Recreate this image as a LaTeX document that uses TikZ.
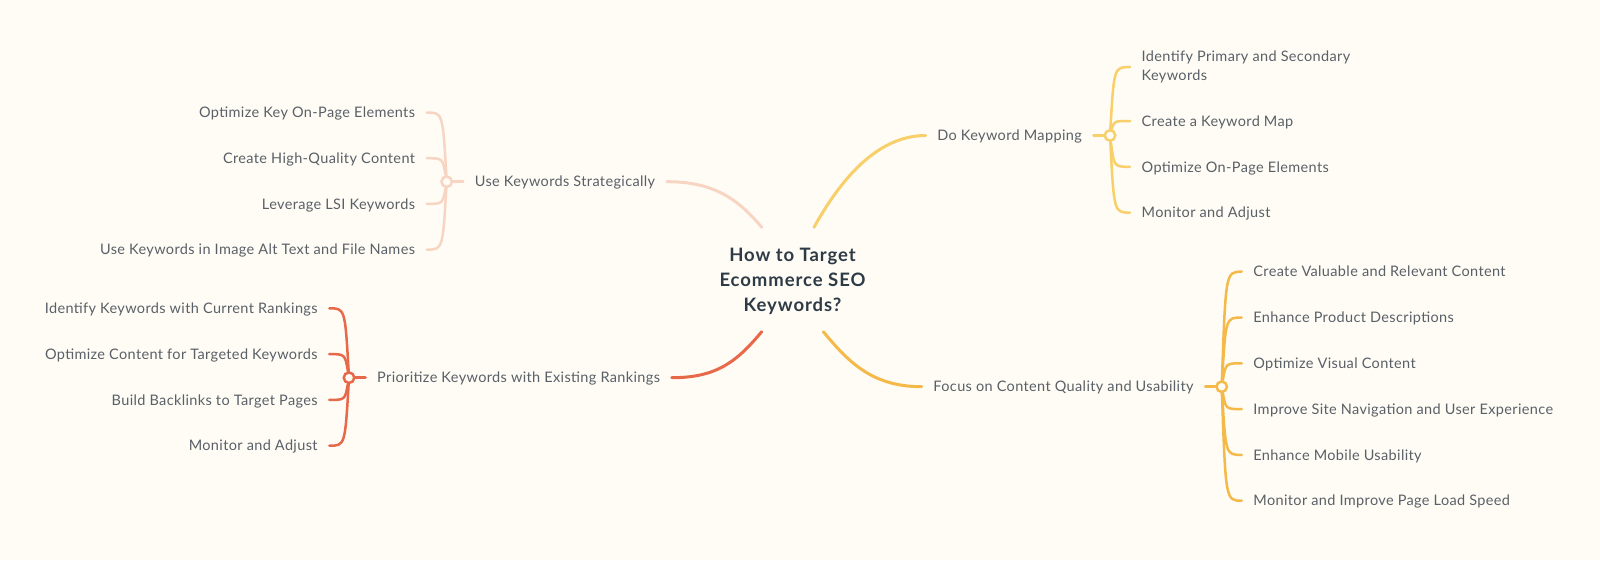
\documentclass[tikz,border=0pt]{standalone}
\usepackage{fontspec}
\setmainfont{Lato}
\newfontfamily\leaffont{Lato}[LetterSpace=2.5]
\newfontfamily\rootfont{Lato}[LetterSpace=5]
\usetikzlibrary{calc}
\usetikzlibrary{positioning}
\definecolor{paper}{HTML}{FEFCF5}
\definecolor{inkgray}{HTML}{5A6067}
\definecolor{inkdark}{HTML}{2E3B46}
\definecolor{peach}{HTML}{F8D5C3}
\definecolor{brick}{HTML}{E8684A}
\definecolor{butter}{HTML}{F8CF68}
\definecolor{amber}{HTML}{F5B949}
\tikzset{
	root/.style={
		font=\rootfont\bfseries\fontsize{18.5}{25}\selectfont,
		text=inkdark,
		align=center},
	leafbase/.style={
		font=\leaffont\fontsize{14.5}{18.5}\selectfont,
		text=inkgray,
		inner xsep=11.5pt,
		inner ysep=0pt},
	leaf/.style={leafbase, text height=12pt, text depth=1.5pt},
	topic/.style={leaf},
	hub/.style={circle, draw, fill=paper, line width=2.5pt, minimum size=10.5pt, inner sep=0pt},
	link/.style={draw, line width=3pt, line cap=round},
	twig/.style={draw, line width=2.5pt, line cap=round},
}
\begin{document}
\begin{tikzpicture}[x=1pt, y=-1pt]
	\useasboundingbox (0,0) rectangle (1600,560);
	\fill[paper] (0,0) rectangle (1600,560);

	% centre
	\node[root] (root) at (792.5,281) {How to Target\\Ecommerce SEO\\Keywords?};
	\coordinate (rtl) at ($(root)+(-30.8,-53.7)$);
	\coordinate (rtr) at ($(root)+(21.5,-53.7)$);
	\coordinate (rbl) at ($(root)+(-30.8,50.7)$);
	\coordinate (rbr) at ($(root)+(30.8,50.7)$);

	% hubs
	\node[hub, draw=peach] (hubA) at (446.7,181.7) {};
	\node[hub, draw=brick] (hubB) at (349,377.7) {};
	\node[hub, draw=butter] (hubC) at (1110,135.5) {};
	\node[hub, draw=amber] (hubD) at (1221.7,386.7) {};

	% topics
	\node[topic, right=10pt of hubA] (uks) {Use Keywords Strategically};
	\node[topic, right=10pt of hubB] (pkr) {Prioritize Keywords with Existing Rankings};
	\node[topic, left=10pt of hubC] (dkm) {Do Keyword Mapping};
	\node[topic, left=10pt of hubD] (fcq) {Focus on Content Quality and Usability};

	\draw[link, peach] (uks.east) .. controls +(45,0) and +(-25,-30) .. (rtl);
	\draw[link, brick] (pkr.east) .. controls +(45,0) and +(-25,30) .. (rbl);
	\draw[link, butter] (rtr) .. controls +(25,-45) and +(-50,0) .. (dkm.west);
	\draw[link, amber] (rbr) .. controls +(25,30) and +(-50,0) .. (fcq.west);

	\draw[twig, peach] (uks) -- (hubA);
	\draw[twig, brick] (pkr) -- (hubB);
	\draw[twig, butter] (dkm) -- (hubC);
	\draw[twig, amber] (fcq) -- (hubD);

	% leaves
	\foreach \t [count=\i] in {Optimize Key On-Page Elements, Create High-Quality Content, Leverage LSI Keywords, Use Keywords in Image Alt Text and File Names}{
		\node[leaf, anchor=east] (a\i) at (426.7,{112.5+45.7*(\i-1)}) {\t};
		\draw[twig, peach] (hubA) .. controls ($(hubA |- a\i.east)+(-4,0)$) .. (a\i.east);
	}
	\foreach \t [count=\i] in {Identify Keywords with Current Rankings, Optimize Content for Targeted Keywords, Build Backlinks to Target Pages, Monitor and Adjust}{
		\node[leaf, anchor=east] (b\i) at (329.3,{308.3+45.8*(\i-1)}) {\t};
		\draw[twig, brick] (hubB) .. controls ($(hubB |- b\i.east)+(-4,0)$) .. (b\i.east);
	}
	\node[leafbase, anchor=west, align=left] (c1) at (1130,67) {Identify Primary and Secondary\\Keywords};
	\draw[twig, butter] (hubC) .. controls ($(hubC |- c1.west)+(4,0)$) .. (c1.west);
	\foreach \t [count=\i from 2] in {Create a Keyword Map, Optimize On-Page Elements, Monitor and Adjust}{
		\node[leaf, anchor=west] (c\i) at (1130,{121+45.8*(\i-2)}) {\t};
		\draw[twig, butter] (hubC) .. controls ($(hubC |- c\i.west)+(4,0)$) .. (c\i.west);
	}
	\foreach \t [count=\i] in {Create Valuable and Relevant Content, Enhance Product Descriptions, Optimize Visual Content, Improve Site Navigation and User Experience, Enhance Mobile Usability, Monitor and Improve Page Load Speed}{
		\node[leaf, anchor=west] (d\i) at (1241.7,{271.7+45.8*(\i-1)}) {\t};
		\draw[twig, amber] (hubD) .. controls ($(hubD |- d\i.west)+(4,0)$) .. (d\i.west);
	}
\end{tikzpicture}
\end{document}
